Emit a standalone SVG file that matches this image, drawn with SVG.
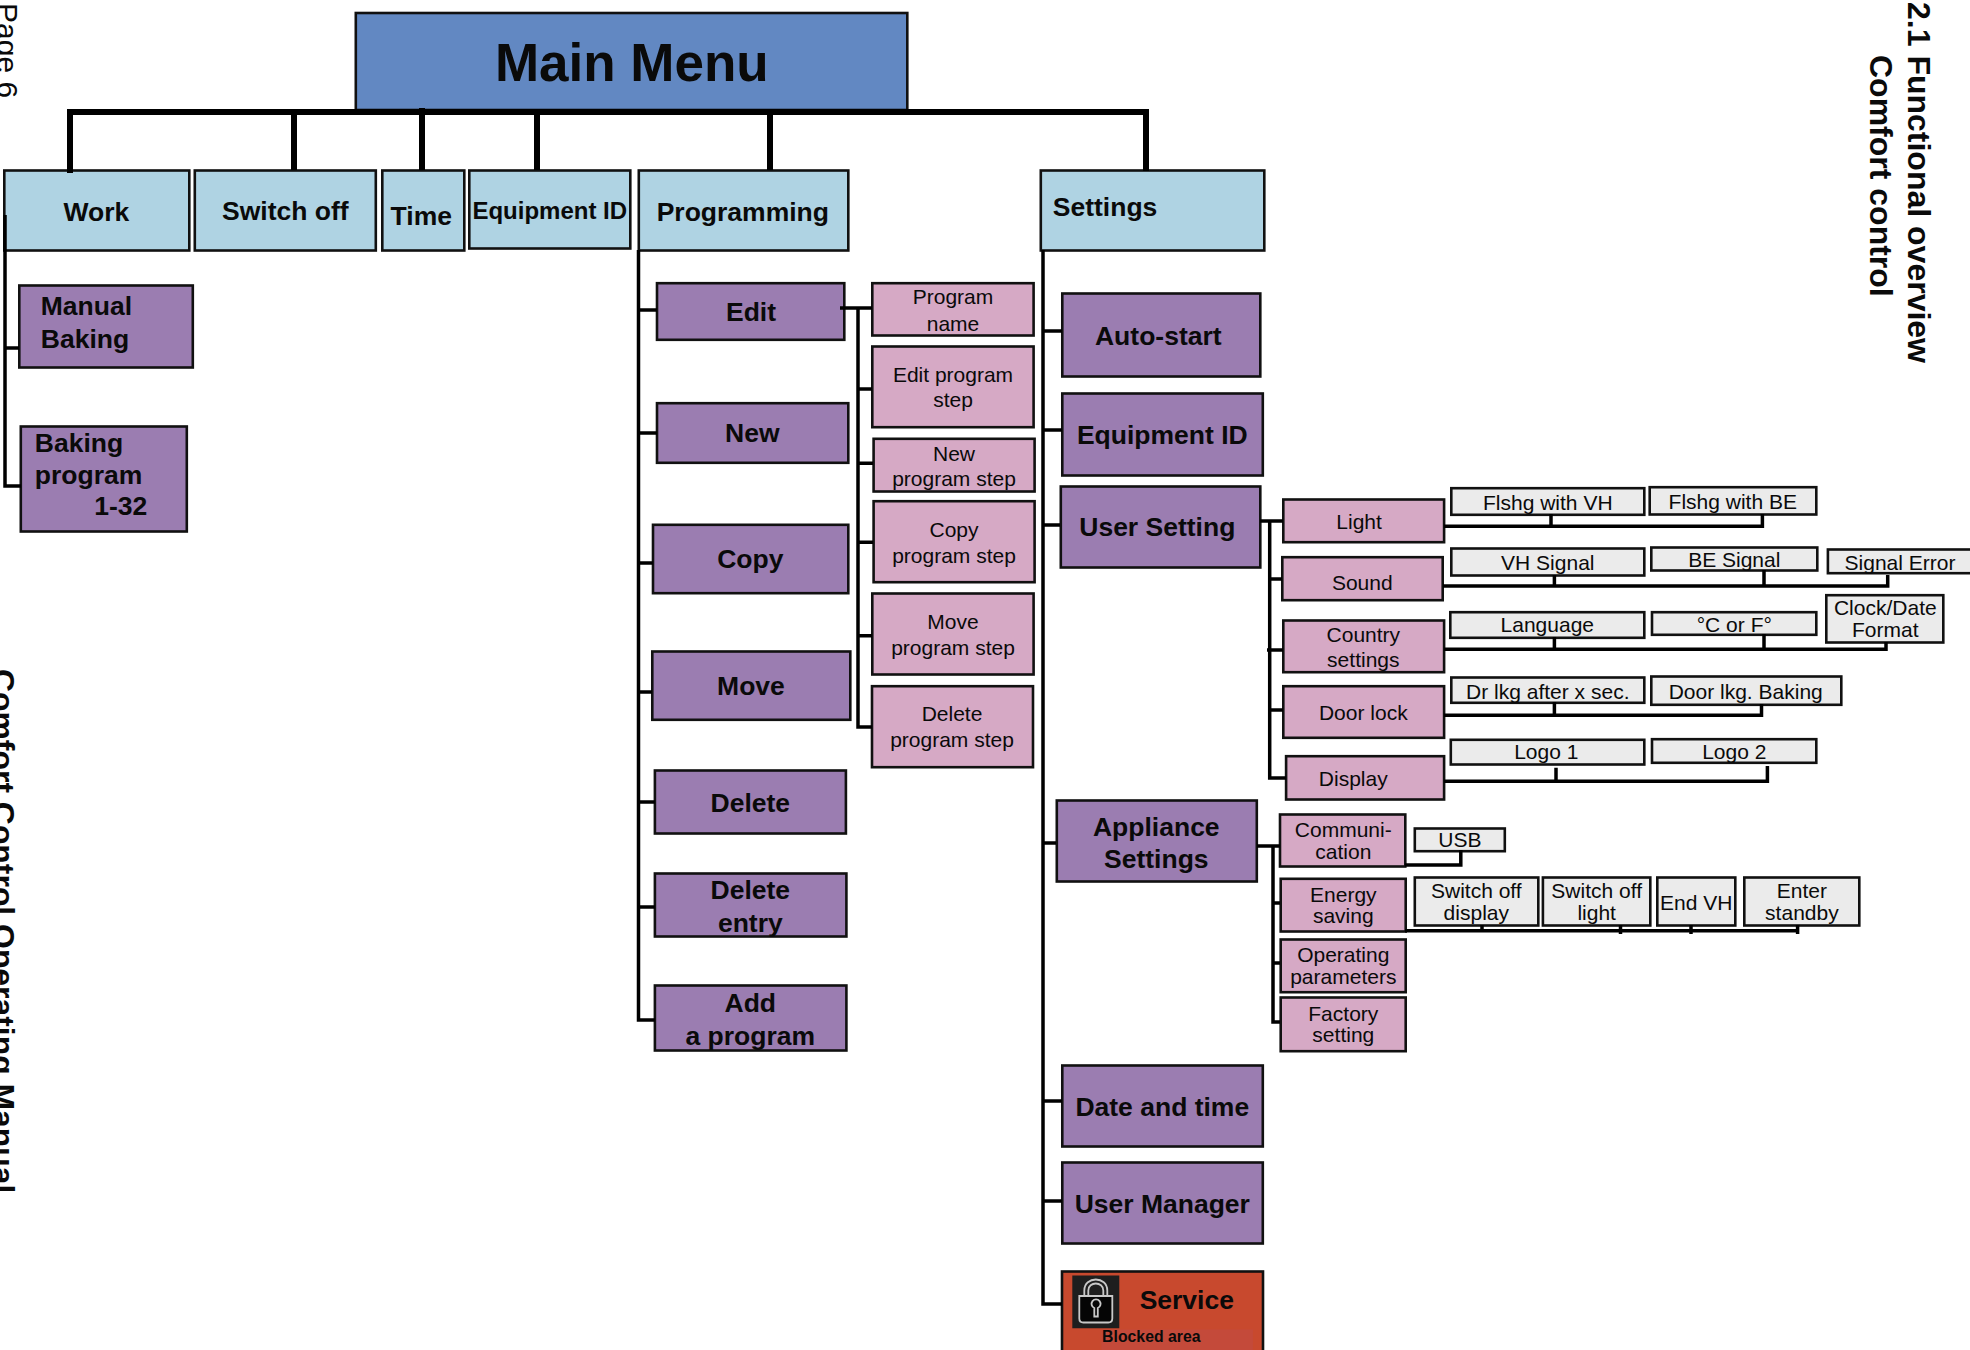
<svg xmlns="http://www.w3.org/2000/svg" width="1970" height="1350" viewBox="0 0 1970 1350">
<style>
text{font-family:"Liberation Sans",Arial,sans-serif;fill:#0a0a0a;text-anchor:middle}
.b{font-weight:bold;font-size:26.500px}
.s{font-size:21px}
.l{text-anchor:start}
rect{stroke:#111;stroke-width:2.600}
.m{fill:#6288c2}
.t{fill:#afd3e3}
.p{fill:#9b7db1}
.k{fill:#d6a9c5}
.g{fill:#ebebeb}
.c{fill:none;stroke:#000;stroke-width:3.500}
.c2{fill:none;stroke:#000;stroke-width:6}
.edge{font-size:32px;font-weight:bold;text-anchor:start}
</style>
<g id="page-labels">
<text transform="translate(-3 3) rotate(90)" style="font-size:30px;text-anchor:start">Page 6</text>
<text transform="translate(-8 669) rotate(90)" class="edge" style="font-size:31.900px">Comfort Control Operating Manual</text>
<text transform="translate(1908 2) rotate(90)" class="edge">2.1 Functional overview</text>
<text transform="translate(1869.500 55) rotate(90)" class="edge">Comfort control</text>
</g>
<g id="nodes" transform="translate(0.3 0.5)">
<g id="main-menu"><rect class="m" x="355.500" y="12.500" width="551.500" height="97"/><text x="631.500" y="80.500" style="font-weight:bold;font-size:53px">Main Menu</text></g>
<g id="work"><rect class="t" x="4" y="170" width="185" height="80"/><text class="b" x="96" y="220">Work</text></g>
<g id="switch-off"><rect class="t" x="194.500" y="170" width="181" height="80"/><text class="b" x="285" y="219">Switch off</text></g>
<g id="time"><rect class="t" x="382" y="170" width="82" height="80"/><text class="b" x="421" y="224">Time</text></g>
<g id="equipment-id-top"><rect class="t" x="469" y="170" width="161" height="78"/><text class="b" x="549.500" y="218" style="font-size:24px">Equipment ID</text></g>
<g id="programming"><rect class="t" x="638.500" y="170" width="209.500" height="80"/><text class="b" x="742.500" y="220">Programming</text></g>
<g id="settings"><rect class="t" x="1040.500" y="170" width="223.500" height="80"/><text class="b l" x="1052.500" y="215">Settings</text></g>
<g id="manual-baking"><rect class="p" x="19" y="285" width="173.500" height="82"/><text class="b l" x="40.500" y="314">Manual</text><text class="b l" x="40.500" y="347">Baking</text></g>
<g id="baking-program"><rect class="p" x="20.500" y="426" width="166" height="105"/><text class="b l" x="34.500" y="451">Baking</text><text class="b l" x="34.500" y="483">program</text><text class="b l" x="94" y="514">1-32</text></g>
<g id="edit"><rect class="p" x="656.700" y="282.700" width="187.300" height="56.600"/><text class="b" x="750.700" y="320.700">Edit</text></g>
<g id="new"><rect class="p" x="656.700" y="402.700" width="191.300" height="59.600"/><text class="b" x="752" y="441.700">New</text></g>
<g id="copy"><rect class="p" x="652.700" y="524.300" width="195.300" height="68.400"/><text class="b" x="750" y="567">Copy</text></g>
<g id="move"><rect class="p" x="652" y="651" width="198" height="68.300"/><text class="b" x="750.700" y="694">Move</text></g>
<g id="delete"><rect class="p" x="654.600" y="770" width="191" height="63"/><text class="b" x="750" y="811">Delete</text></g>
<g id="delete-entry"><rect class="p" x="654.600" y="873" width="191.500" height="63"/><text class="b" x="750" y="898">Delete</text><text class="b" x="750" y="931">entry</text></g>
<g id="add-program"><rect class="p" x="654.600" y="985" width="191.500" height="65"/><text class="b" x="750" y="1011">Add</text><text class="b" x="750" y="1044">a program</text></g>
<g id="program-name"><rect class="k" x="872" y="282.700" width="161.300" height="52.300"/><text class="s" x="952.700" y="303.800">Program</text><text class="s" x="952.700" y="330">name</text></g>
<g id="edit-program-step"><rect class="k" x="872" y="346" width="161.300" height="80.700"/><text class="s" x="952.700" y="381">Edit program</text><text class="s" x="952.700" y="406.700">step</text></g>
<g id="new-program-step"><rect class="k" x="873.300" y="438.300" width="161" height="52.700"/><text class="s" x="953.700" y="460">New</text><text class="s" x="953.700" y="485">program step</text></g>
<g id="copy-program-step"><rect class="k" x="873.300" y="500.700" width="161" height="81"/><text class="s" x="953.700" y="536">Copy</text><text class="s" x="953.700" y="562.300">program step</text></g>
<g id="move-program-step"><rect class="k" x="872" y="593" width="161.300" height="81"/><text class="s" x="952.700" y="628.300">Move</text><text class="s" x="952.700" y="654">program step</text></g>
<g id="delete-program-step"><rect class="k" x="871.700" y="685.700" width="161" height="81"/><text class="s" x="951.700" y="720.700">Delete</text><text class="s" x="951.700" y="746.700">program step</text></g>
<g id="auto-start"><rect class="p" x="1062" y="293" width="198" height="83"/><text class="b" x="1158" y="344.500">Auto-start</text></g>
<g id="equipment-id"><rect class="p" x="1062" y="393" width="200.500" height="82"/><text class="b" x="1162" y="443.500">Equipment ID</text></g>
<g id="user-setting"><rect class="p" x="1060.500" y="486" width="199.500" height="81"/><text class="b" x="1157" y="535">User Setting</text></g>
<g id="appliance-settings"><rect class="p" x="1056.500" y="800" width="200" height="81"/><text class="b" x="1156" y="835">Appliance</text><text class="b" x="1156" y="867">Settings</text></g>
<g id="date-time"><rect class="p" x="1062" y="1065" width="200.500" height="81"/><text class="b" x="1162" y="1115">Date and time</text></g>
<g id="user-manager"><rect class="p" x="1062" y="1162" width="200.500" height="81"/><text class="b" x="1162" y="1212">User Manager</text></g>
<g id="service">
<rect x="1061.700" y="1271" width="201" height="90" fill="#c8492e"/>
<path d="M1101 1329H1252.700V1350H1101Z" fill="#c44a3a"/>
<path d="M1072 1275H1119V1327.700H1072Z" fill="#1e1e1e"/>
<path d="M1079 1295.500H1112V1318Q1112 1322 1108 1322H1083Q1079 1322 1079 1318Z" fill="#050505" stroke="#c8c8c8" stroke-width="1.800"/>
<path d="M1084 1295V1290C1084 1275.300 1107 1275.300 1107 1290V1295M1088 1295V1290C1088 1280.700 1103 1280.700 1103 1290V1295" fill="none" stroke="#c8c8c8" stroke-width="1.800"/>
<path d="M1094 1316V1307.500A4.500 4.500 0 1 1 1097.500 1307.500V1316Z" fill="none" stroke="#c8c8c8" stroke-width="1.800"/>
<text class="b" x="1186.500" y="1308">Service</text>
<text x="1151" y="1341" style="font-weight:bold;font-size:15.800px">Blocked area</text>
</g>
<g id="light"><rect class="k" x="1283" y="499" width="160.800" height="42.700"/><text class="s" x="1358.800" y="528.300">Light</text></g>
<g id="sound"><rect class="k" x="1282" y="556.700" width="160.400" height="43"/><text class="s" x="1362" y="589">Sound</text></g>
<g id="country-settings"><rect class="k" x="1283" y="620" width="160.800" height="51.700"/><text class="s" x="1363" y="641.700">Country</text><text class="s" x="1363" y="666">settings</text></g>
<g id="door-lock"><rect class="k" x="1283" y="685.700" width="160.800" height="51.600"/><text class="s" x="1363" y="719.300">Door lock</text></g>
<g id="display"><rect class="k" x="1285.800" y="755.700" width="158" height="43.300"/><text class="s" x="1353" y="785">Display</text></g>
<g id="flshg-vh"><rect class="g" x="1451" y="487.700" width="193" height="26.600"/><text class="s" x="1547.500" y="509">Flshg with VH</text></g>
<g id="flshg-be"><rect class="g" x="1649.400" y="486.700" width="166.600" height="27.300"/><text class="s" x="1732.500" y="508">Flshg with BE</text></g>
<g id="vh-signal"><rect class="g" x="1451" y="548" width="193" height="27"/><text class="s" x="1547.500" y="569">VH Signal</text></g>
<g id="be-signal"><rect class="g" x="1651" y="547" width="166" height="23"/><text class="s" x="1734" y="566.700">BE Signal</text></g>
<g id="signal-error"><rect class="g" x="1827.600" y="549" width="145" height="23.700"/><text class="s" x="1899.700" y="569">Signal Error</text></g>
<g id="language"><rect class="g" x="1450" y="611.700" width="194" height="25.600"/><text class="s" x="1547" y="631.700">Language</text></g>
<g id="c-or-f"><rect class="g" x="1651.700" y="611.700" width="164.300" height="22.600"/><text class="s" x="1734" y="631">°C or F°</text></g>
<g id="clock-date"><rect class="g" x="1826" y="594.700" width="117" height="47.300"/><text class="s" x="1885" y="614.700">Clock/Date</text><text class="s" x="1885" y="636.700">Format</text></g>
<g id="dr-lkg"><rect class="g" x="1451" y="677" width="193" height="25.300"/><text class="s" x="1547.500" y="698.300">Dr lkg after x sec.</text></g>
<g id="door-lkg-baking"><rect class="g" x="1651" y="676" width="190" height="28.300"/><text class="s" x="1745.400" y="698">Door lkg. Baking</text></g>
<g id="logo-1"><rect class="g" x="1450.500" y="739.300" width="193.500" height="24.700"/><text class="s" x="1546" y="758">Logo 1</text></g>
<g id="logo-2"><rect class="g" x="1651.700" y="738.700" width="164.300" height="23.600"/><text class="s" x="1734" y="758">Logo 2</text></g>
<g id="communication"><rect class="k" x="1279.700" y="814" width="125.300" height="52"/><text class="s" x="1343" y="836.700">Communi-</text><text class="s" x="1343" y="858.300">cation</text></g>
<g id="energy-saving"><rect class="k" x="1280.400" y="878.300" width="125" height="52.700"/><text class="s" x="1343" y="901.700">Energy</text><text class="s" x="1343" y="922.700">saving</text></g>
<g id="operating-parameters"><rect class="k" x="1280.400" y="939" width="125" height="52.700"/><text class="s" x="1343" y="961.700">Operating</text><text class="s" x="1343" y="983.300">parameters</text></g>
<g id="factory-setting"><rect class="k" x="1280.400" y="997" width="125" height="53.700"/><text class="s" x="1343" y="1020.700">Factory</text><text class="s" x="1343" y="1041.700">setting</text></g>
<g id="usb"><rect class="g" x="1414.500" y="828" width="90" height="22.700"/><text class="s" x="1459.600" y="846.700">USB</text></g>
<g id="switch-off-display"><rect class="g" x="1414.500" y="877" width="123.500" height="48"/><text class="s" x="1476" y="897.500">Switch off</text><text class="s" x="1476" y="919.500">display</text></g>
<g id="switch-off-light"><rect class="g" x="1542.600" y="877" width="107.400" height="48"/><text class="s" x="1596.400" y="897.500">Switch off</text><text class="s" x="1596.400" y="919.500">light</text></g>
<g id="end-vh"><rect class="g" x="1657" y="877" width="78" height="48"/><text class="s" x="1696" y="909">End VH</text></g>
<g id="enter-standby"><rect class="g" x="1744" y="877" width="115" height="48"/><text class="s" x="1801.600" y="897.500">Enter</text><text class="s" x="1801.600" y="919.500">standby</text></g>
</g>
<g id="connectors">
<path class="c2" d="M70 173V112H1146V171M294 112V170M422 108V170M537 112V170M770 112V170"/>
<path class="c" d="M5 215V486H21M5 348H19"/>
<path class="c" d="M638.500 250V1020H655M638.500 310H657M638.500 433H657M638.500 563H653M638.500 692H652M638.500 802H655M638.500 907H655"/>
<path class="c" d="M840 308H872M858 308V727H872M858 389H872M858 463.300H873M858 542.300H873M858 635.700H872"/>
<path class="c" d="M1043 250V1304H1062M1043 331H1062M1043 430H1062M1043 525H1060M1043 843H1056M1043 1101H1062M1043 1201H1062"/>
<path class="c" d="M1260 521H1283M1269.700 521V778H1286M1269.700 579H1282M1267 650H1283M1269.700 710H1283"/>
<path class="c" d="M1444 526.300H1762.400V514M1551 526.300V514"/>
<path class="c" d="M1443 586H1887.700V575M1554.400 586V575M1764 586V570"/>
<path class="c" d="M1444 649.300H1886V642M1554.400 649.300V637M1764 649.300V634"/>
<path class="c" d="M1444 715.300H1761.500V704M1554.400 715.300V702"/>
<path class="c" d="M1444 781.300H1767.400V766M1556 781.300V767.700"/>
<path class="c" d="M1257 846H1280M1273 846V1022H1280M1273 903H1280M1273 963H1280"/>
<path class="c" d="M1405 865H1460.800V850"/>
<path class="c" d="M1405 930.700H1797.600M1482 925V931M1620.500 925V934M1691 925V934M1797.600 925V934"/>
</g>
</svg>
